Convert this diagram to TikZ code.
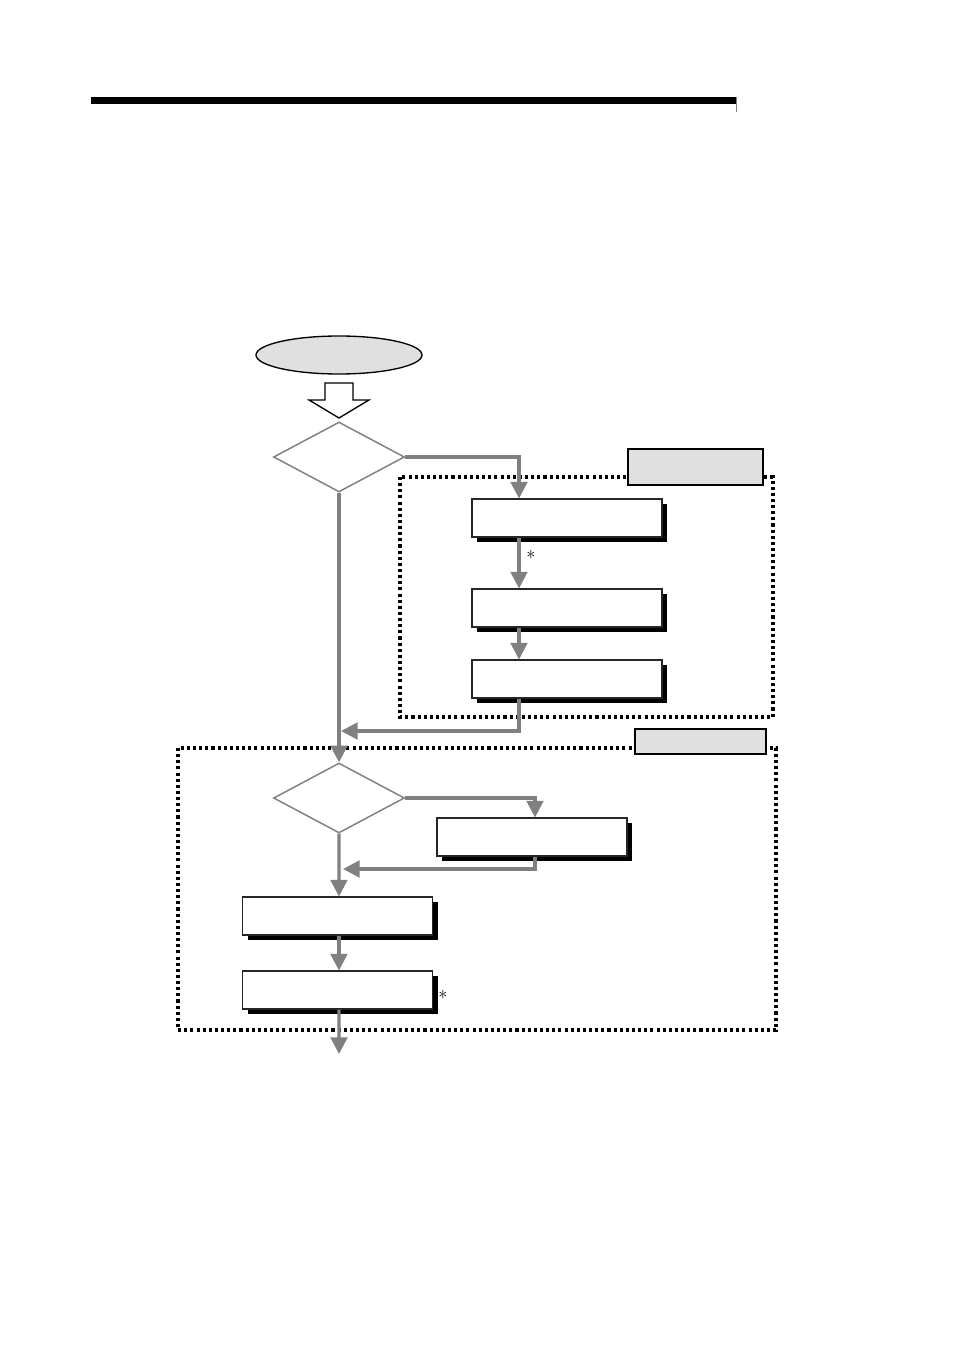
\documentclass[tikz,border=0pt]{standalone}
\usetikzlibrary{arrows.meta,shapes.geometric,shadows}
\begin{document}
\begin{tikzpicture}[x=0.75pt,y=-0.75pt]
\useasboundingbox[fill=white] (0,0) rectangle (954,1351);
\definecolor{lightfill}{HTML}{E0E0E0}
\definecolor{conn}{HTML}{808080}
\tikzset{
  flowbox/.style={draw=black!85, line width=0.8pt, fill=white,
    minimum width=142.5pt, minimum height=28.5pt, inner sep=0pt,
    drop shadow={shadow xshift=3.75pt, shadow yshift=-3.75pt, fill=black, opacity=1}},
  decision/.style={diamond, draw=conn, line width=1.1pt, fill=white,
    minimum width=98.25pt, minimum height=52.5pt, inner sep=0pt, shape aspect=1.87},
  labelbox/.style={draw=black, line width=1.1pt, fill=lightfill, inner sep=0pt},
  dotframe/.style={draw=black, line width=2.3pt, dash pattern=on 2.3pt off 2.3pt},
  conline/.style={draw=conn, line width=2.3pt, -{Triangle[length=12.5pt,width=12.5pt]}},
  star/.style={font=\fontsize{14}{14}\selectfont, inner sep=0pt}
}
% top rule
\fill[black] (91,97) rectangle (736,104);
\draw[gray, line width=0.6pt] (736,97) -- (736,112);

% dotted frames
\draw[dotframe] (400,477) rectangle (773,717);
\draw[dotframe] (178,748) rectangle (776,1030);

% label boxes
\node[labelbox, minimum width=101.25pt, minimum height=27pt] (lab1) at (695.5,467) {};
\node[labelbox, minimum width=98.25pt, minimum height=18.75pt] (lab2) at (700.5,741.5) {};

% start terminal
\node[ellipse, draw=black, line width=1pt, fill=lightfill, minimum width=124.5pt, minimum height=28.5pt, inner sep=0pt] (start) at (339,355) {};

% hollow arrow
\draw[black, line width=1pt, fill=white] (325,383) -- (353,383) -- (353,400) -- (369,400) -- (339,418) -- (309,400) -- (325,400) -- cycle;

% decisions
\node[decision] (d1) at (339,457) {};
\node[decision] (d2) at (339,798) {};

% process boxes
\node[flowbox] (A) at (567,518) {};
\node[flowbox] (B) at (567,608) {};
\node[flowbox] (C) at (567,679) {};
\node[flowbox] (D) at (532,837) {};
\node[flowbox] (E) at (337.5,916) {};
\node[flowbox] (F) at (337.5,990) {};

% junction coordinates
\coordinate (j1) at (341,731);
\coordinate (j2) at (343,869);
\coordinate (endp) at (339,1054);

% connectors
\draw[conline] (d1.east) -| ([xshift=-36pt]A.north);
\draw[conline] ([xshift=-36pt]A.south) -- ([xshift=-36pt]B.north);
\draw[conline] ([xshift=-36pt]B.south) -- ([xshift=-36pt]C.north);
\draw[conline] ([xshift=-36pt]C.south) |- (j1);
\draw[conline] (d1.south) -- (d2.north);
\draw[conline] (d2.east) -| ([xshift=2.25pt]D.north);
\draw[conline] ([xshift=2.25pt]D.south) |- (j2);
\draw[conline] (d2.south) -- ([xshift=1.1pt]E.north);
\draw[conline] ([xshift=1.1pt]E.south) -- ([xshift=1.1pt]F.north);
\draw[conline] ([xshift=1.1pt]F.south) -- (endp);

% asterisks
\node[star] (s1) at (531,557) {*};
\node[star] (s2) at (443,997) {*};
\end{tikzpicture}
\end{document}
